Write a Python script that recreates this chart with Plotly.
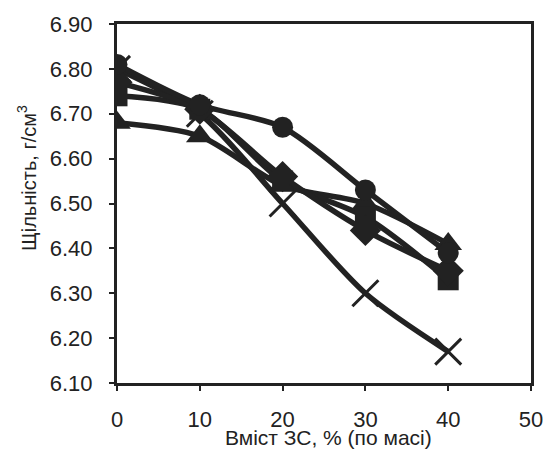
import plotly.graph_objects as go

x_vals = [0, 10, 20, 30, 40]
circle_y = [6.81, 6.72, 6.67, 6.53, 6.39]
square_y = [6.74, 6.71, 6.55, 6.47, 6.33]
triangle_y = [6.68, 6.65, 6.54, 6.50, 6.41]
diamond_y = [6.77, 6.71, 6.56, 6.44, 6.35]
cross_y = [6.80, 6.70, 6.50, 6.30, 6.17]

y_ticks = [6.10, 6.20, 6.30, 6.40, 6.50, 6.60, 6.70, 6.80, 6.90]
x_ticks = [0, 10, 20, 30, 40, 50]

x_title = "Вміст ЗС, % (по масі)"
y_title = "Щільність, г/см<sup>3</sup>"

C = "#222222"
FONT = "Liberation Sans, Arial, sans-serif"

W, H = 555, 465
L, R, T, B = 117, 14, 19, 82
PW = W - L - R
PH = H - T - B

fig = go.Figure()

series = [
    (cross_y, "x-thin", 26, 3),
    (triangle_y, "triangle-up", 24, 0),
    (square_y, "square", 21, 0),
    (diamond_y, "diamond", 24, 0),
    (circle_y, "circle", 21, 0),
]
for ys, sym, sz, lw in series:
    fig.add_trace(go.Scatter(
        x=x_vals, y=ys, mode="lines+markers",
        line=dict(color=C, width=5.5, shape="spline", smoothing=0.8),
        marker=dict(symbol=sym, size=sz, color=C, line=dict(color=C, width=lw)),
        showlegend=False,
    ))

fig.update_layout(
    width=W, height=H,
    margin=dict(l=L, r=R, t=T, b=B),
    paper_bgcolor="white", plot_bgcolor="white",
    font=dict(family=FONT, size=22, color=C),
    xaxis=dict(
        range=[0, 50], tickvals=x_ticks, ticktext=[str(v) for v in x_ticks],
        showgrid=False, zeroline=False,
        showline=True, linecolor=C, linewidth=3, mirror=True,
        ticks="outside", ticklen=5, tickwidth=2, tickcolor=C,
        tickfont=dict(size=22, family=FONT, color=C),
        ticklabelstandoff=10,
    ),
    yaxis=dict(
        range=[6.10, 6.90], tickvals=y_ticks, ticktext=["%.2f" % v for v in y_ticks],
        showgrid=False, zeroline=False,
        showline=True, linecolor=C, linewidth=3, mirror=True,
        ticks="outside", ticklen=5, tickwidth=2, tickcolor=C,
        tickfont=dict(size=22, family=FONT, color=C),
        ticklabelstandoff=12,
    ),
    annotations=[
        dict(text=x_title, xref="paper", yref="paper",
             x=(334 - L) / PW, y=-(438 - (T + PH)) / PH,
             showarrow=False, xanchor="center", yanchor="middle",
             font=dict(size=21, family=FONT, color=C)),
        dict(text=y_title, xref="paper", yref="paper",
             x=-(L - 25) / PW, y=(T + PH - 175) / PH,
             showarrow=False, xanchor="center", yanchor="middle", textangle=-90,
             font=dict(size=20, family=FONT, color=C)),
    ],
)

fig.write_html(
    "out.html",
    config={"displayModeBar": False},
    post_script="document.body.style.margin='0';document.body.style.overflow='hidden';",
)
